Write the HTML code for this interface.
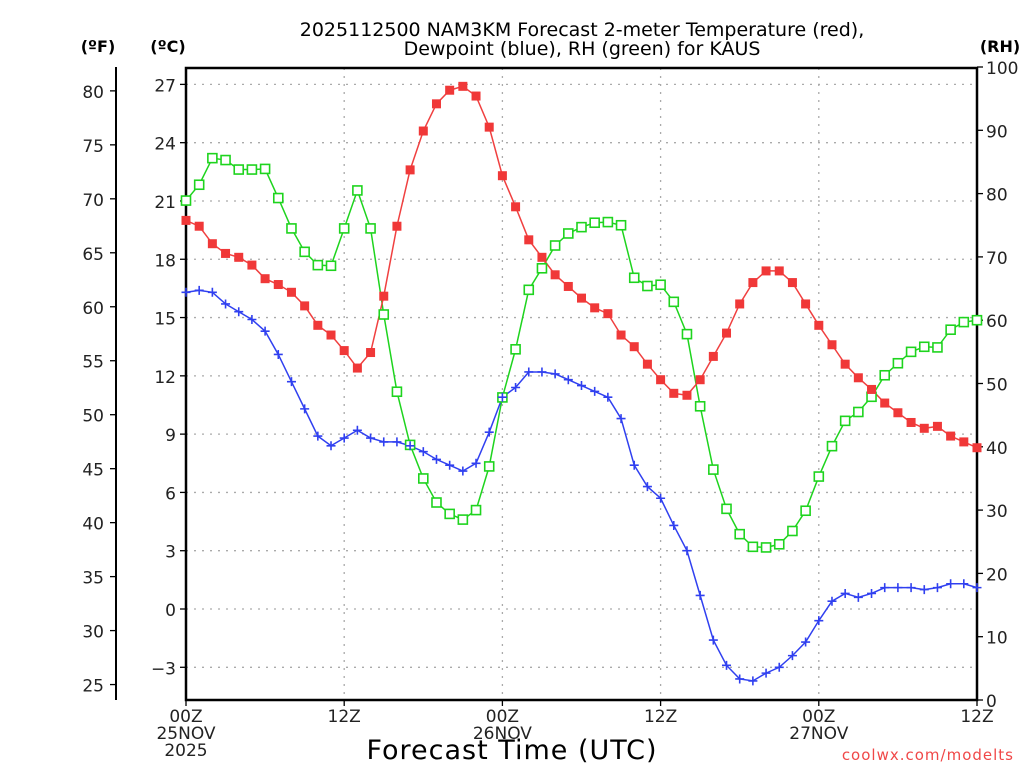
<!DOCTYPE html>
<html><head><meta charset="utf-8"><style>
html,body{margin:0;padding:0;background:#fff;}
svg{display:block;font-family:"DejaVu Sans","Liberation Sans",sans-serif;}
</style></head><body>
<svg id="chart" width="1024" height="768" viewBox="0 0 1024 768" xmlns="http://www.w3.org/2000/svg">
<g id="grid"></g>
<g id="axes"></g>
<g id="series"></g>
<text x="582" y="36" font-size="19" text-anchor="middle" fill="#000">2025112500 NAM3KM Forecast 2-meter Temperature (red),</text>
<text x="582" y="55" font-size="19" text-anchor="middle" fill="#000">Dewpoint (blue), RH (green) for KAUS</text>
<text x="98" y="52" font-size="16" font-weight="bold" text-anchor="middle">(ºF)</text>
<text x="168" y="52" font-size="16" font-weight="bold" text-anchor="middle">(ºC)</text>
<text x="1000" y="52" font-size="16" font-weight="bold" text-anchor="middle">(RH)</text>
<text x="512" y="759" font-size="27" text-anchor="middle" letter-spacing="1">Forecast Time (UTC)</text>
<text x="1014" y="760" font-size="15" text-anchor="end" fill="#f04848" letter-spacing="1">coolwx.com/modelts</text>
<script>
const hours=[...Array(61).keys()];
const tempC=[20.0,19.7,18.8,18.3,18.1,17.7,17.0,16.7,16.3,15.6,14.6,14.1,13.3,12.4,13.2,16.1,19.7,22.6,24.6,26.0,26.7,26.9,26.4,24.8,22.3,20.7,19.0,18.1,17.2,16.6,16.0,15.5,15.2,14.1,13.5,12.6,11.8,11.1,11.0,11.8,13.0,14.2,15.7,16.8,17.4,17.4,16.8,15.7,14.6,13.6,12.6,11.9,11.3,10.6,10.1,9.6,9.3,9.4,8.9,8.6,8.3];
const dewC=[16.3,16.4,16.3,15.7,15.3,14.9,14.3,13.1,11.7,10.3,8.9,8.4,8.8,9.2,8.8,8.6,8.6,8.4,8.1,7.7,7.4,7.1,7.5,9.1,10.9,11.4,12.2,12.2,12.1,11.8,11.5,11.2,10.9,9.8,7.4,6.3,5.7,4.3,3.0,0.7,-1.6,-2.9,-3.6,-3.7,-3.3,-3.0,-2.4,-1.7,-0.6,0.4,0.8,0.6,0.8,1.1,1.1,1.1,1.0,1.1,1.3,1.3,1.1];
const rh=[78.9,81.4,85.6,85.3,83.8,83.8,83.9,79.3,74.5,70.8,68.7,68.6,74.5,80.5,74.5,60.9,48.7,40.3,35.0,31.2,29.4,28.5,30.0,36.9,47.8,55.4,64.8,68.2,71.8,73.7,74.7,75.4,75.5,75.0,66.7,65.4,65.6,62.9,57.8,46.4,36.4,30.2,26.2,24.2,24.1,24.6,26.7,29.9,35.3,40.1,44.1,45.5,47.9,51.3,53.2,55.0,55.8,55.7,58.5,59.7,60.0];
const cTicks=[-3,0,3,6,9,12,15,18,21,24,27];
const fTicks=[25,30,35,40,45,50,55,60,65,70,75,80];
const rhTicks=[0,10,20,30,40,50,60,70,80,90,100];
const xTickHours=[0,12,24,36,48,60];
const xLabels=[["00Z","25NOV","2025"],["12Z"],["00Z","26NOV"],["12Z"],["00Z","27NOV"],["12Z"]];

const L=186,R=977,T=68,B=700;
const NS="http://www.w3.org/2000/svg";
function X(h){return L+(h/60)*(R-L);}
function YC(c){return 609-c*19.43;}
function YF(f){return YC((f-32)*5/9);}
function YR(v){return B-v*(B-67)/100;}
function el(tag,attrs,parent,text){const e=document.createElementNS(NS,tag);for(const k in attrs)e.setAttribute(k,attrs[k]);if(text!==undefined)e.textContent=text;parent.appendChild(e);return e;}
const grid=document.getElementById('grid'),axes=document.getElementById('axes'),ser=document.getElementById('series');

cTicks.forEach(c=>{const y=YC(c);
 const g=el('line',{x1:L,x2:R,y1:y,y2:y,stroke:'#aaa','stroke-width':1.3,'stroke-dasharray':'2,6'},grid);
 
 
 el('line',{x1:L-6,x2:L,y1:y,y2:y,stroke:'#000','stroke-width':1.3},axes);
 const t=el('text',{x:L-10,y:y+7,'font-size':17,'text-anchor':'end',fill:'#222'},axes,c<0?'\u2212'+(-c):String(c));
 
 
});
xTickHours.forEach((h,i)=>{const x=X(h);
 if(h>0&&h<60){const g=el('line',{x1:x,x2:x,y1:T,y2:B,stroke:'#aaa','stroke-width':1.3,'stroke-dasharray':'2,6'},grid);
 
 }
 el('line',{x1:x,x2:x,y1:B,y2:B+6,stroke:'#000','stroke-width':1.3},axes);
 xLabels[i].forEach((s,j)=>{const t=el('text',{x:x,y:B+22+j*17,'font-size':17,'text-anchor':'middle',fill:'#222'},axes,s);
 
 });
});
fTicks.forEach(f=>{const y=YF(f);
 el('line',{x1:110,x2:116,y1:y,y2:y,stroke:'#000','stroke-width':1.3},axes);
 const t=el('text',{x:104,y:y+7,'font-size':17,'text-anchor':'end',fill:'#222'},axes,String(f));
 
 
});
rhTicks.forEach(v=>{const y=YR(v);
 el('line',{x1:R,x2:R+6,y1:y,y2:y,stroke:'#000','stroke-width':1.3},axes);
 const t=el('text',{x:R+9,y:y+7,'font-size':17,'text-anchor':'start',fill:'#222'},axes,String(v));
 
 
});
const fl=el('line',{x1:116,x2:116,y1:67,y2:B,stroke:'#000','stroke-width':2},axes);


const fr=el('rect',{x:L,y:T,width:R-L,height:B-T,fill:'none',stroke:'#000','stroke-width':2.5},axes);



function line(vals,yf,color,name){
 const p=el('polyline',{points:vals.map((v,i)=>X(hours[i])+','+yf(v)).join(' '),fill:'none',stroke:color,'stroke-width':1.5},ser);
 
 
}
line(rh,YR,'#1ed41e','rh-line');
line(tempC,YC,'#f04040','temperature-line');
line(dewC,YC,'#3040f0','dewpoint-line');
rh.forEach((v,i)=>{const m=el('rect',{x:X(hours[i])-4.5,y:YR(v)-4.5,width:9,height:9,fill:'#fff',stroke:'#1ed41e','stroke-width':1.6},ser);
 
 });
tempC.forEach((v,i)=>{const m=el('rect',{x:X(hours[i])-4.5,y:YC(v)-4.5,width:9,height:9,fill:'#f03838'},ser);
 
 });
dewC.forEach((v,i)=>{const x=X(hours[i]),y=YC(v);
 const m=el('path',{d:`M${x-4.5},${y}H${x+4.5}M${x},${y-4.5}V${y+4.5}`,stroke:'#3040f0','stroke-width':1.6},ser);
 
 });
</script>
</svg>
</body></html>
